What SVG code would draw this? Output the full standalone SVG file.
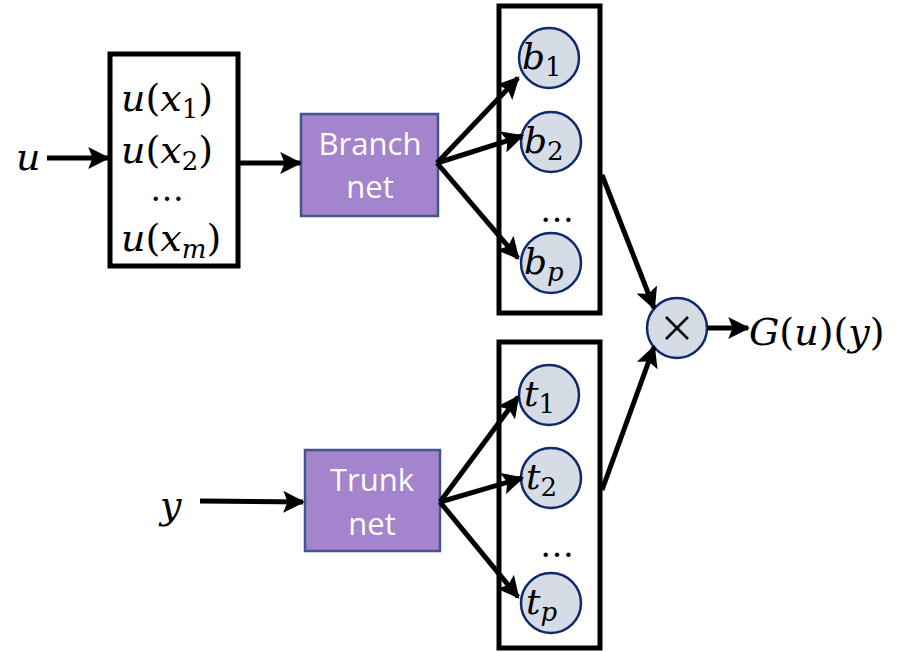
<svg xmlns="http://www.w3.org/2000/svg" width="912" height="652" viewBox="0 0 912 652">
<defs>
<style>
.box{fill:#fff;stroke:#000;stroke-width:5}
.net{fill:#a484cc;stroke:#41578a;stroke-width:2.5}
.nt{font-family:"Open Sans","Noto Sans",sans-serif;font-size:31px;fill:#fff;text-anchor:middle}
.node{fill:#d6dce5;stroke:#0f2a6a;stroke-width:2.5}
.m{font-family:"DejaVu Serif",serif;font-style:italic;font-size:38px;fill:#000}
.b{font-size:36px}
.s{font-size:26px}
.u{font-style:normal}
.dots{font-family:"DejaVu Serif",serif;font-size:34px;fill:#000;text-anchor:middle}
.c{stroke:#000;stroke-width:5;fill:none;marker-end:url(#ah)}
</style>
<marker id="ah" viewBox="0 0 10 10" refX="9" refY="5" markerWidth="4.4" markerHeight="4.4" orient="auto" markerUnits="strokeWidth">
<path d="M0,0 L10,5 L0,10 L2,5 z" fill="#000"/>
</marker>
</defs>

<g id="input-u"><text class="m" x="16" y="170">u</text></g>
<g id="input-y"><text class="m" x="160" y="518">y</text></g>

<g id="sensor-box">
<rect class="box" x="110" y="54" width="128" height="212"/>
<text class="m" x="121" y="111">u<tspan class="u">(</tspan>x<tspan class="s u" dy="7">1</tspan><tspan class="u" dy="-7">)</tspan></text>
<text class="m" x="121" y="163">u<tspan class="u">(</tspan>x<tspan class="s u" dy="7">2</tspan><tspan class="u" dy="-7">)</tspan></text>
<text class="dots" x="167" y="201">…</text>
<text class="m" x="121" y="251">u<tspan class="u">(</tspan>x<tspan class="s" dy="7">m</tspan><tspan class="u" dy="-7">)</tspan></text>
</g>

<g id="branch-net">
<rect class="net" x="301" y="114" width="137" height="102"/>
<text class="nt" x="370" y="155">Branch</text>
<text class="nt" x="370" y="198">net</text>
</g>

<g id="trunk-net">
<rect class="net" x="305" y="450" width="135" height="101"/>
<text class="nt" x="372" y="491">Trunk</text>
<text class="nt" x="372" y="535">net</text>
</g>

<g id="branch-outputs">
<rect class="box" x="499" y="6" width="101" height="307"/>
<circle class="node" cx="549" cy="58" r="30"/>
<text class="m b" x="522" y="69">b<tspan class="s u" dy="7">1</tspan></text>
<circle class="node" cx="551" cy="142" r="30"/>
<text class="m b" x="524" y="153">b<tspan class="s u" dy="7">2</tspan></text>
<text class="dots" x="557" y="222">…</text>
<circle class="node" cx="551" cy="263" r="30"/>
<text class="m b" x="524" y="274">b<tspan class="s" dy="7">p</tspan></text>
</g>

<g id="trunk-outputs">
<rect class="box" x="499" y="342" width="101" height="306"/>
<circle class="node" cx="549" cy="395" r="30"/>
<text class="m b" x="524" y="406">t<tspan class="s u" dy="7">1</tspan></text>
<circle class="node" cx="551" cy="478" r="30"/>
<text class="m b" x="526" y="489">t<tspan class="s u" dy="7">2</tspan></text>
<text class="dots" x="557" y="557">…</text>
<circle class="node" cx="551" cy="603" r="30"/>
<text class="m b" x="526" y="614">t<tspan class="s" dy="7">p</tspan></text>
</g>

<g id="multiply">
<circle class="node" cx="677" cy="328" r="30"/>
<path d="M666,317 L688,339 M688,317 L666,339" stroke="#000" stroke-width="2.5"/>
</g>

<g id="output">
<text class="m" x="749" y="345">G<tspan class="u">(</tspan>u<tspan class="u">)(</tspan>y<tspan class="u">)</tspan></text>
</g>

<g id="connectors">
<line class="c" x1="47" y1="158" x2="108" y2="158"/>
<line class="c" x1="240" y1="163" x2="300" y2="163"/>
<line class="c" x1="437" y1="163" x2="518" y2="78"/>
<line class="c" x1="437" y1="163" x2="522" y2="136"/>
<line class="c" x1="437" y1="163" x2="518" y2="258"/>
<line class="c" x1="200" y1="501" x2="303" y2="502"/>
<line class="c" x1="440" y1="502" x2="518" y2="397"/>
<line class="c" x1="440" y1="502" x2="522" y2="478"/>
<line class="c" x1="440" y1="502" x2="518" y2="597"/>
<line class="c" x1="602" y1="175" x2="654" y2="308"/>
<line class="c" x1="602" y1="490" x2="654" y2="347"/>
<line class="c" x1="707" y1="328" x2="748" y2="328"/>
</g>
</svg>
